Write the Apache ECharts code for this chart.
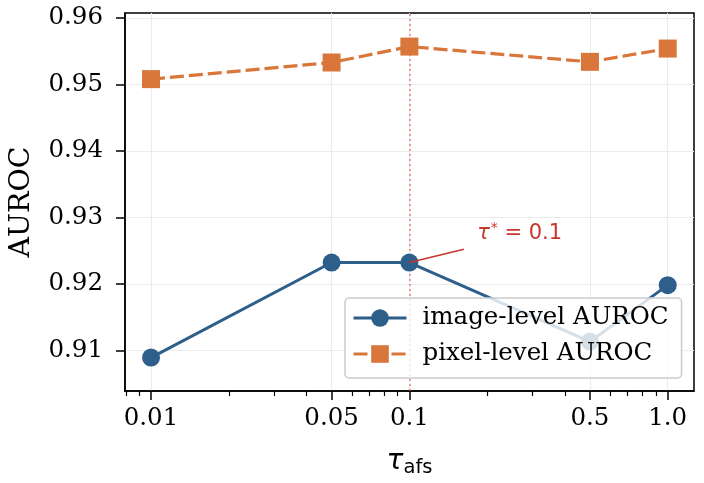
<!DOCTYPE html>
<html>
<head>
<meta charset="utf-8">
<script src="https://cdn.jsdelivr.net/npm/echarts@6/dist/echarts.min.js"></script>
<style>
  html, body { margin: 0; padding: 0; background: #fff; }
  #chart { width: 704px; height: 483px; }
</style>
</head>
<body>
<div id="chart"></div>
<script>
// data
const tauValues = [0.01, 0.05, 0.1, 0.5, 1.0];
const imageAuroc = [0.9089, 0.9232, 0.9232, 0.9113, 0.9198];
const pixelAuroc = [0.9508, 0.9533, 0.9557, 0.9534, 0.9554];

const xTickValues = [0.01, 0.05, 0.1, 0.5, 1.0];
const xMinorTicks = [0.008, 0.009, 0.02, 0.03, 0.04, 0.06, 0.07, 0.08, 0.09,
  0.2, 0.3, 0.4, 0.6, 0.7, 0.8, 0.9];
const yTickValues = [0.91, 0.92, 0.93, 0.94, 0.95, 0.96];

const bestTau = 0.1;
const annoFrom = [0.1, 0.9232];
const annoTo = [0.1625, 0.9252];
const annoText = [0.183, 0.9276];

const serif = 'DejaVu Serif';
const sans = 'DejaVu Sans';
const blue = '#2e5f8a';
const orange = '#d9763a';
const red = '#c8362b';

const xRange = [0.00793, 1.264];
const yRange = [0.90387, 0.96075];

let dom = document.getElementById('chart');
let chart = echarts.init(dom);

const option = {
  animation: false,
  grid: {
    left: 125, right: 10, top: 13, bottom: 92,
    outerBoundsMode: 'none',
    show: true, borderColor: '#000', borderWidth: 1.5
  },
  legend: {
    left: 345, top: 298,
    orient: 'vertical',
    itemWidth: 53, itemHeight: 22,
    itemGap: 10,
    padding: [7, 13, 11, 7],
    backgroundColor: 'rgba(255,255,255,0.8)',
    borderColor: '#cccccc', borderWidth: 1.5, borderRadius: 4,
    lineStyle: { width: 3 },
    textStyle: { fontFamily: serif, fontSize: 24.5, color: '#000', lineHeight: 26, padding: [0, 0, 0, 11] },
    data: ['image-level AUROC', 'pixel-level AUROC']
  },
  xAxis: [{
    type: 'log', logBase: 10,
    min: xRange[0], max: xRange[1],
    name: '{t|τ}{s|afs}',
    nameLocation: 'middle', nameGap: 54,
    nameTextStyle: {
      rich: {
        t: { fontFamily: sans, fontStyle: 'italic', fontSize: 28, color: '#000' },
        s: { fontFamily: sans, fontSize: 19.5, color: '#000', padding: [13, 0, 0, 0] }
      }
    },
    axisLine: { show: true, lineStyle: { color: '#000', width: 1.5 } },
    axisTick: { show: true, length: 9, customValues: xTickValues, lineStyle: { color: '#000', width: 1.5 } },
    axisLabel: {
      customValues: xTickValues,
      fontFamily: serif, fontSize: 24.5, color: '#000', margin: 15,
      formatter: v => (v === 1 ? '1.0' : String(v))
    },
    splitLine: { show: true, lineStyle: { color: '#ebebeb', width: 1 } },
    minorTick: { show: false }
  }, {
    type: 'log', logBase: 10,
    min: xRange[0], max: xRange[1],
    position: 'bottom', offset: 0,
    axisLine: { show: false },
    axisTick: { show: true, length: 5, customValues: xMinorTicks, lineStyle: { color: '#000', width: 1.2 } },
    axisLabel: { show: false },
    splitLine: { show: false }
  }],
  yAxis: {
    type: 'value',
    min: yRange[0], max: yRange[1],
    name: 'AUROC',
    nameLocation: 'middle', nameGap: 89,
    nameTextStyle: { fontFamily: serif, fontSize: 28.5, color: '#000' },
    axisLine: { show: true, lineStyle: { color: '#000', width: 1.5 } },
    axisTick: { show: true, length: 9, customValues: yTickValues, lineStyle: { color: '#000', width: 1.5 } },
    axisLabel: {
      customValues: yTickValues,
      fontFamily: serif, fontSize: 24.5, color: '#000', margin: 22,
      formatter: v => v.toFixed(2)
    },
    splitLine: { show: true, lineStyle: { color: '#ebebeb', width: 1 } }
  },
  series: [{
    name: 'image-level AUROC',
    type: 'line',
    data: tauValues.map((t, i) => [t, imageAuroc[i]]),
    symbol: 'circle', symbolSize: 18,
    lineStyle: { color: blue, width: 3 },
    itemStyle: { color: blue },
    z: 3,
    markLine: {
      silent: true, symbol: 'none',
      label: { show: false },
      lineStyle: { color: red, width: 1.5, type: 'solid' },
      data: [[{ coord: annoFrom }, { coord: annoTo }]]
    },
    markPoint: {
      symbol: 'circle', symbolSize: 0,
      label: {
        show: true, position: 'right', distance: 0,
        formatter: '{t|τ}{s|*}{r| = 0.1}',
        rich: {
          t: { fontFamily: sans, fontStyle: 'italic', fontSize: 21, color: red },
          s: { fontFamily: sans, fontSize: 14, color: red, padding: [0, 0, 10, 1] },
          r: { fontFamily: sans, fontSize: 21, color: red }
        }
      },
      data: [{ coord: annoText }]
    }
  }, {
    name: 'pixel-level AUROC',
    type: 'line',
    data: tauValues.map((t, i) => [t, pixelAuroc[i]]),
    symbol: 'rect', symbolSize: 18,
    lineStyle: { color: orange, width: 3.2, type: [14, 5] },
    itemStyle: { color: orange },
    z: 3,
    markLine: {
      silent: true, symbol: 'none',
      label: { show: false },
      lineStyle: { color: 'rgba(214,80,70,0.7)', width: 1.5, type: [2, 3] },
      data: [{ xAxis: bestTau }],
      z: 1
    }
  }]
};

option && chart.setOption(option);
</script>
</body>
</html>
